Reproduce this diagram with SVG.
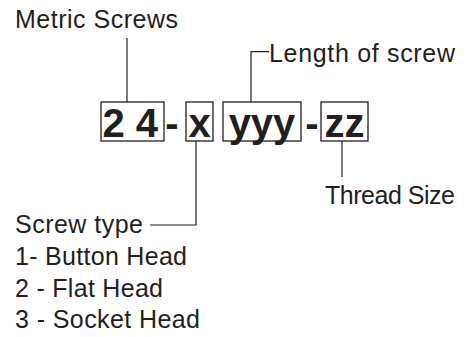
<svg xmlns="http://www.w3.org/2000/svg" width="471" height="337" viewBox="0 0 471 337">
<style>
.lbl{font-family:"Liberation Sans",Arial,sans-serif;font-size:25px;fill:#231f20}
.big{font-family:"Liberation Sans",Arial,sans-serif;font-size:40px;font-weight:bold;fill:#231f20}
.box{fill:#fff;stroke:#231f20;stroke-width:1.3}
.ln{fill:none;stroke:#231f20;stroke-width:1.2}
</style>
<rect width="471" height="337" fill="#fff"/>
<g id="connectors">
<path class="ln" d="M127 38V102"/>
<path class="ln" d="M269 51.7H251V102"/>
<path class="ln" d="M196 141V225H150"/>
<path class="ln" d="M342 141V177"/>
</g>
<g id="box-24"><rect class="box" x="101" y="102" width="63" height="39"/><text class="big" x="102.5" y="137">2 4</text></g>
<g id="dash1"><text class="big" x="172" y="137" text-anchor="middle">-</text></g>
<g id="box-x"><rect class="box" x="186" y="102" width="27" height="39"/><text class="big" x="199.5" y="137" text-anchor="middle">x</text></g>
<g id="box-yyy"><rect class="box" x="223" y="102" width="78" height="39"/><text class="big" x="262" y="137" text-anchor="middle">yyy</text></g>
<g id="dash2"><text class="big" x="312" y="137" text-anchor="middle">-</text></g>
<g id="box-zz"><rect class="box" x="321" y="102" width="47" height="39"/><text class="big" x="344.5" y="137" text-anchor="middle">zz</text></g>
<g id="metric"><text class="lbl" x="15" y="28" textLength="163">Metric Screws</text></g>
<g id="length"><text class="lbl" x="269" y="62" textLength="186">Length of screw</text></g>
<g id="thread"><text class="lbl" x="325" y="204" textLength="130">Thread Size</text></g>
<g id="screwtype">
<text class="lbl" x="15" y="233" textLength="128">Screw type</text>
<text class="lbl" x="15" y="265" textLength="172">1- Button Head</text>
<text class="lbl" x="15" y="297" textLength="148">2 - Flat Head</text>
<text class="lbl" x="15" y="328" textLength="185">3 - Socket Head</text>
</g>
</svg>
